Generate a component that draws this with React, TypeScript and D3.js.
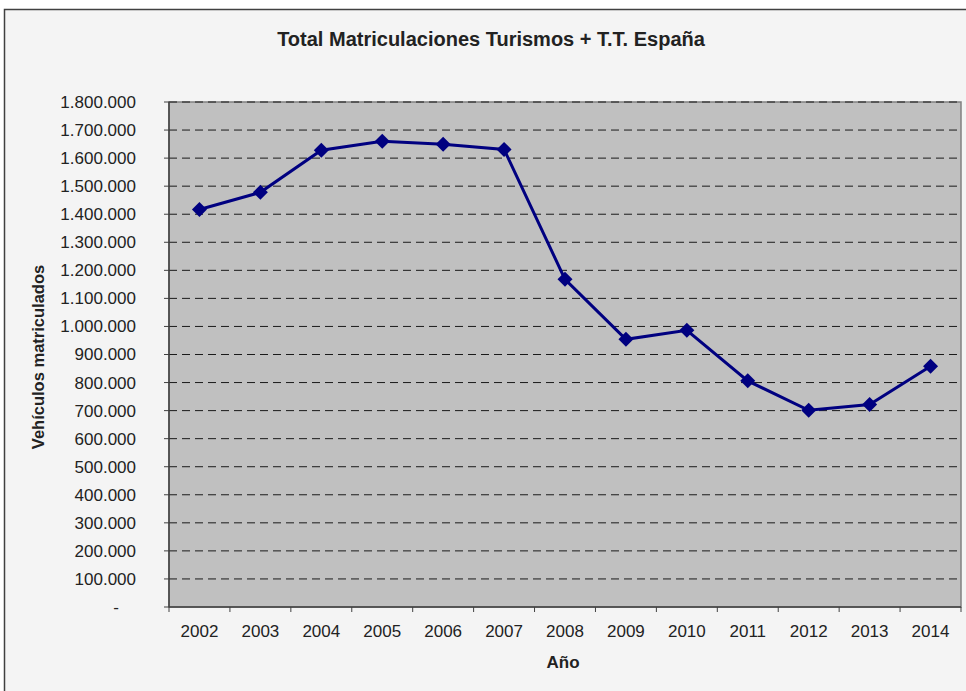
import * as d3 from "d3";

const years = ["2002", "2003", "2004", "2005", "2006", "2007", "2008", "2009", "2010", "2011", "2012", "2013", "2014"];
const matriculaciones = [1417000, 1478000, 1628000, 1660000, 1649000, 1631000, 1168000, 954000, 986000, 806000, 701000, 722000, 858000];
const yTicks = [0, 100000, 200000, 300000, 400000, 500000, 600000, 700000, 800000, 900000, 1000000, 1100000, 1200000, 1300000, 1400000, 1500000, 1600000, 1700000, 1800000];

const fmt = (v: number) => (v === 0 ? "-" : d3.format(",")(v).replace(/,/g, "."));

export default function App() {
  const width = 966;
  const height = 691;
  const margin = { top: 102, right: 5, bottom: 84, left: 169 };
  const innerWidth = width - margin.left - margin.right;
  const innerHeight = height - margin.top - margin.bottom;

  const xScale = d3.scaleBand().domain(years).range([0, innerWidth]);
  const yScale = d3.scaleLinear().domain([0, 1800000]).range([innerHeight, 0]);

  const data = years.map((y, i) => ({ year: y, value: matriculaciones[i] }));
  const line = d3
    .line<{ year: string; value: number }>()
    .x((d) => (xScale(d.year) ?? 0) + xScale.bandwidth() / 2)
    .y((d) => yScale(d.value));

  const font = "'Liberation Sans', Arial, sans-serif";

  return (
    <svg
      width={width}
      height={height}
      style={{ position: "absolute", left: 0, top: 0, display: "block" }}
      fontFamily={font}
    >
      <rect x={0} y={0} width={width} height={height} fill="#ffffff" />
      <rect x={4.5} y={9.5} width={width} height={height} fill="#f4f4f4" stroke="#404040" strokeWidth={1.5} />
      <text x={491} y={46} textAnchor="middle" fontSize={20} fontWeight="bold" fill="#222">
        Total Matriculaciones Turismos + T.T. España
      </text>
      <g transform={`translate(${margin.left}, ${margin.top})`}>
        <rect x={0} y={0} width={innerWidth} height={innerHeight} fill="#c0c0c0" stroke="#808080" strokeWidth={1.5} />
        {yTicks.map((t) => (
          <g key={t}>
            {t > 0 && (
              <line
                x1={0}
                x2={innerWidth}
                y1={yScale(t)}
                y2={yScale(t)}
                stroke="#1a1a1a"
                strokeDasharray="8,5"
                strokeWidth={1}
              />
            )}
            <line x1={-5} x2={0} y1={yScale(t)} y2={yScale(t)} stroke="#404040" />
            <text
              x={t === 0 ? -50 : -33}
              y={yScale(t)}
              dy="0.35em"
              textAnchor="end"
              fontSize={17}
              fill="#222"
            >
              {fmt(t)}
            </text>
          </g>
        ))}
        <line x1={0} x2={0} y1={0} y2={innerHeight} stroke="#404040" strokeWidth={1.5} />
        <line x1={0} x2={innerWidth} y1={innerHeight} y2={innerHeight} stroke="#404040" strokeWidth={1.5} />
        {years.map((y, i) => (
          <g key={y}>
            <line
              x1={xScale(y) ?? 0}
              x2={xScale(y) ?? 0}
              y1={innerHeight}
              y2={innerHeight + 5}
              stroke="#404040"
            />
            {i === years.length - 1 && (
              <line x1={innerWidth} x2={innerWidth} y1={innerHeight} y2={innerHeight + 5} stroke="#404040" />
            )}
            <text
              x={(xScale(y) ?? 0) + xScale.bandwidth() / 2}
              y={innerHeight + 30}
              textAnchor="middle"
              fontSize={17}
              fill="#222"
            >
              {y}
            </text>
          </g>
        ))}
        <path d={line(data) ?? ""} fill="none" stroke="#000080" strokeWidth={3} />
        {data.map((d) => {
          const cx = (xScale(d.year) ?? 0) + xScale.bandwidth() / 2;
          const cy = yScale(d.value);
          const r = 7.5;
          return (
            <path
              key={d.year}
              d={`M${cx},${cy - r}L${cx + r},${cy}L${cx},${cy + r}L${cx - r},${cy}Z`}
              fill="#000080"
            />
          );
        })}
      </g>
      <text x={563} y={668} textAnchor="middle" fontSize={17} fontWeight="bold" fill="#222">
        Año
      </text>
      <text
        transform={`translate(44, 357) rotate(-90)`}
        textAnchor="middle"
        fontSize={16.5}
        fontWeight="bold"
        fill="#222"
      >
        Vehículos matriculados
      </text>
    </svg>
  );
}
